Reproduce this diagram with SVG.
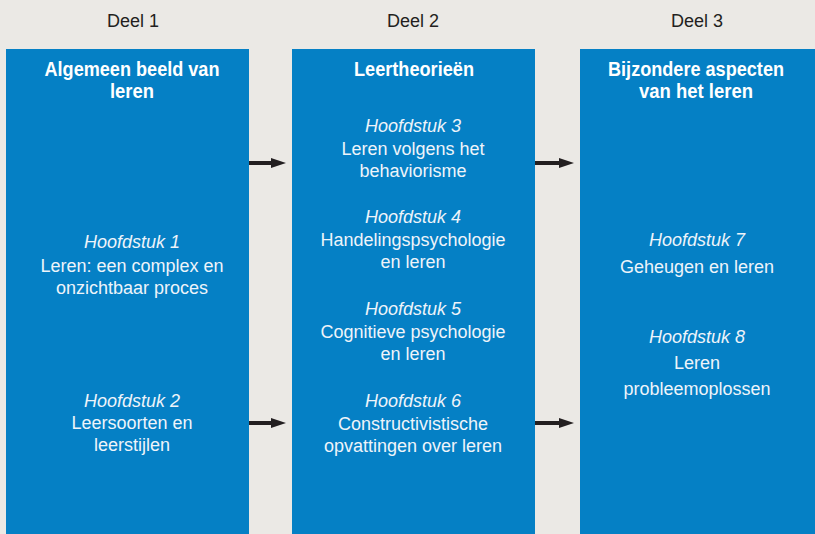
<svg xmlns="http://www.w3.org/2000/svg" width="815" height="534" viewBox="0 0 815 534">
<defs>
<style>
.col{fill:#0580c5}
.hdr{font-family:"Liberation Sans",Arial,sans-serif;font-size:18px;fill:#231f20;text-anchor:middle}
.ttl{font-family:"Liberation Sans",Arial,sans-serif;font-weight:bold;font-size:19.5px;fill:#ffffff;text-anchor:middle}
.t{font-family:"Liberation Sans",Arial,sans-serif;font-size:18px;fill:#eef4fa;text-anchor:middle}
.i{font-style:italic}
.arr{stroke:#231f20;stroke-width:4;fill:none}
.head{fill:#231f20}
</style>
</defs>
<rect x="0" y="0" width="815" height="534" fill="#ebe9e5"/>
<g id="deel1">
<text class="hdr" x="133" y="27">Deel 1</text>
<rect class="col" x="6" y="49" width="243" height="485"/>
<text class="ttl" x="132" y="76" textLength="175" lengthAdjust="spacingAndGlyphs">Algemeen beeld van</text>
<text class="ttl" x="132" y="98" textLength="44" lengthAdjust="spacingAndGlyphs">leren</text>
<text class="t i" x="132" y="248">Hoofdstuk 1</text>
<text class="t" x="132" y="272">Leren: een complex en</text>
<text class="t" x="132" y="294">onzichtbaar proces</text>
<text class="t i" x="132" y="407">Hoofdstuk 2</text>
<text class="t" x="132" y="429">Leersoorten en</text>
<text class="t" x="132" y="451">leerstijlen</text>
</g>
<g id="deel2">
<text class="hdr" x="413" y="27">Deel 2</text>
<rect class="col" x="292" y="49" width="243" height="485"/>
<text class="ttl" x="414" y="76" textLength="120" lengthAdjust="spacingAndGlyphs">Leertheorieën</text>
<text class="t i" x="413" y="132">Hoofdstuk 3</text>
<text class="t" x="413" y="155">Leren volgens het</text>
<text class="t" x="413" y="177">behaviorisme</text>
<text class="t i" x="413" y="223">Hoofdstuk 4</text>
<text class="t" x="413" y="246">Handelingspsychologie</text>
<text class="t" x="413" y="268">en leren</text>
<text class="t i" x="413" y="315">Hoofdstuk 5</text>
<text class="t" x="413" y="338">Cognitieve psychologie</text>
<text class="t" x="413" y="360">en leren</text>
<text class="t i" x="413" y="407">Hoofdstuk 6</text>
<text class="t" x="413" y="430">Constructivistische</text>
<text class="t" x="413" y="452">opvattingen over leren</text>
</g>
<g id="deel3">
<text class="hdr" x="697" y="27">Deel 3</text>
<rect class="col" x="580" y="49" width="235" height="485"/>
<text class="ttl" x="696" y="76" textLength="176" lengthAdjust="spacingAndGlyphs">Bijzondere aspecten</text>
<text class="ttl" x="696" y="98" textLength="114" lengthAdjust="spacingAndGlyphs">van het leren</text>
<text class="t i" x="697" y="246">Hoofdstuk 7</text>
<text class="t" x="697" y="273">Geheugen en leren</text>
<text class="t i" x="697" y="343">Hoofdstuk 8</text>
<text class="t" x="697" y="369">Leren</text>
<text class="t" x="697" y="395">probleemoplossen</text>
</g>
<g id="connectors">
<line class="arr" x1="249" y1="163" x2="273" y2="163"/>
<polygon class="head" points="271,158 286,163 271,168"/>
<line class="arr" x1="535" y1="163" x2="561" y2="163"/>
<polygon class="head" points="559,158 574,163 559,168"/>
<line class="arr" x1="249" y1="423" x2="273" y2="423"/>
<polygon class="head" points="271,418 286,423 271,428"/>
<line class="arr" x1="535" y1="423" x2="561" y2="423"/>
<polygon class="head" points="559,418 574,423 559,428"/>
</g>
</svg>
